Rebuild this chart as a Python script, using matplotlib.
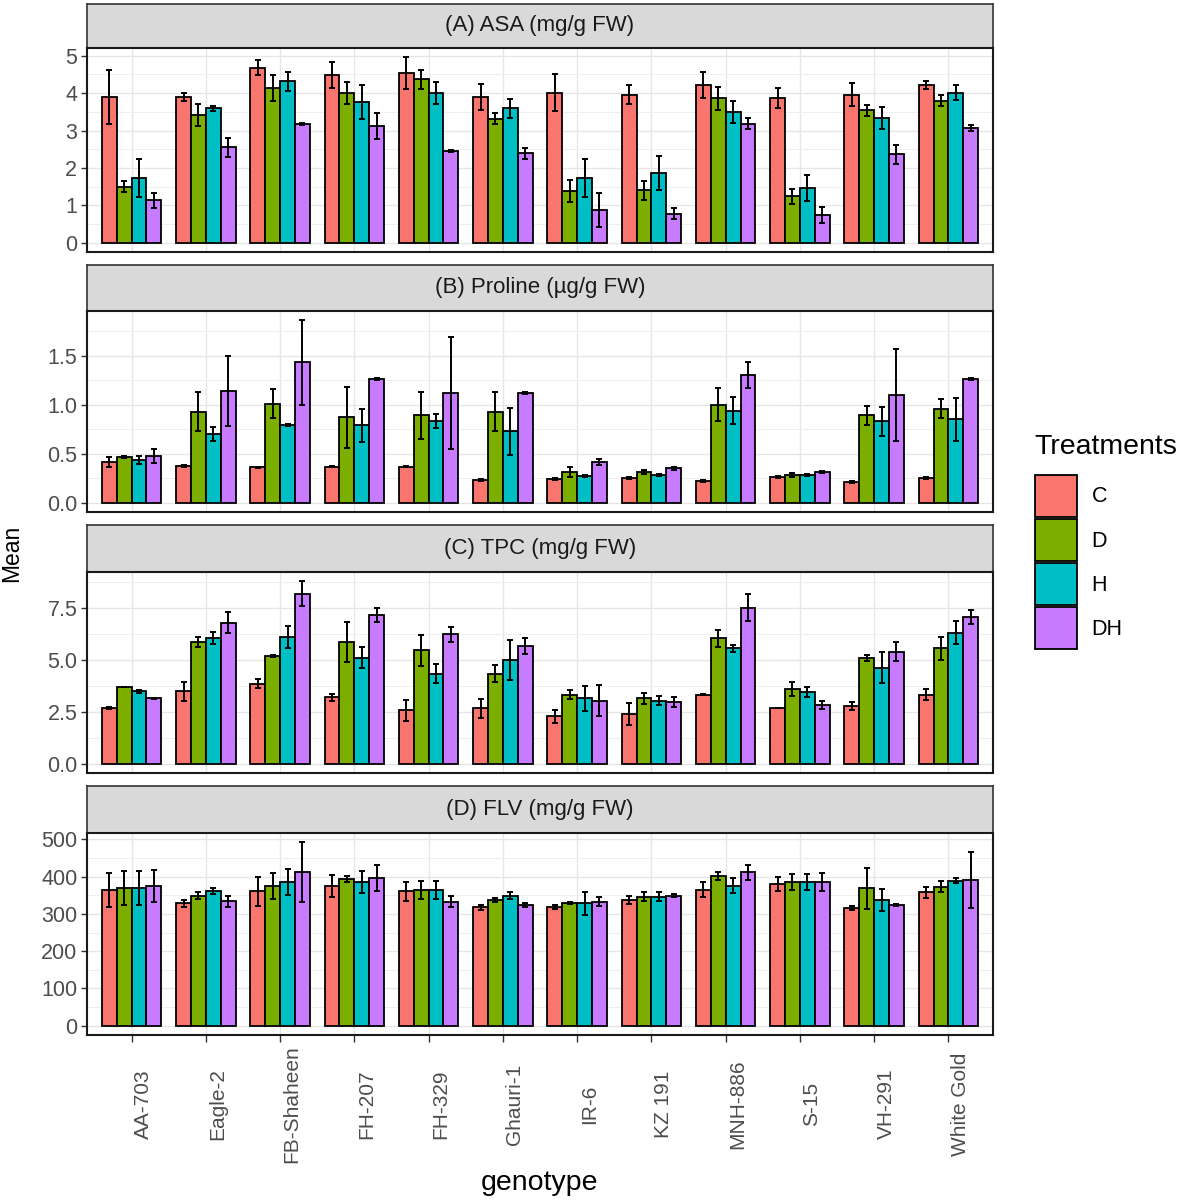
import numpy as np
import matplotlib.pyplot as plt
from matplotlib.patches import Patch
from matplotlib.ticker import MultipleLocator, FormatStrFormatter
from matplotlib.transforms import ScaledTranslation

plt.rcParams['font.family'] = ['Liberation Sans', 'DejaVu Sans']

genotypes = ['AA-703', 'Eagle-2', 'FB-Shaheen', 'FH-207', 'FH-329', 'Ghauri-1',
             'IR-6', 'KZ 191', 'MNH-886', 'S-15', 'VH-291', 'White Gold']
treatments = ['C', 'D', 'H', 'DH']
colors = ['#F8766D', '#7CAE00', '#00BFC4', '#C77CFF']

# rows = genotypes, columns = treatments (C, D, H, DH)
asa_mean = [[3.90, 1.50, 1.73, 1.14], [3.90, 3.42, 3.59, 2.55], [4.68, 4.14, 4.32, 3.18],
            [4.49, 4.01, 3.76, 3.13], [4.53, 4.37, 4.01, 2.45], [3.90, 3.32, 3.59, 2.39],
            [4.01, 1.38, 1.73, 0.88], [3.96, 1.40, 1.87, 0.78], [4.22, 3.86, 3.49, 3.18],
            [3.86, 1.24, 1.46, 0.74], [3.96, 3.54, 3.33, 2.36], [4.22, 3.80, 4.01, 3.06]]
asa_err = [[0.72, 0.15, 0.52, 0.20], [0.10, 0.30, 0.07, 0.25], [0.20, 0.35, 0.25, 0.03],
           [0.35, 0.30, 0.45, 0.35], [0.43, 0.25, 0.30, 0.03], [0.35, 0.15, 0.25, 0.15],
           [0.50, 0.30, 0.50, 0.45], [0.25, 0.25, 0.45, 0.15], [0.35, 0.30, 0.30, 0.15],
           [0.27, 0.20, 0.35, 0.22], [0.30, 0.15, 0.30, 0.25], [0.10, 0.15, 0.20, 0.08]]

proline_mean = [[0.42, 0.47, 0.44, 0.48], [0.38, 0.93, 0.70, 1.14], [0.36, 1.01, 0.79, 1.43],
                [0.37, 0.87, 0.79, 1.26], [0.37, 0.89, 0.83, 1.12], [0.23, 0.93, 0.73, 1.12],
                [0.24, 0.31, 0.27, 0.42], [0.25, 0.31, 0.28, 0.35], [0.22, 1.00, 0.94, 1.30],
                [0.26, 0.28, 0.28, 0.31], [0.21, 0.89, 0.83, 1.10], [0.25, 0.96, 0.85, 1.26]]
proline_err = [[0.05, 0.01, 0.04, 0.07], [0.01, 0.20, 0.07, 0.36], [0.01, 0.15, 0.01, 0.43],
               [0.01, 0.31, 0.17, 0.01], [0.01, 0.24, 0.07, 0.57], [0.01, 0.20, 0.24, 0.01],
               [0.01, 0.05, 0.01, 0.03], [0.01, 0.02, 0.01, 0.02], [0.01, 0.17, 0.14, 0.13],
               [0.01, 0.02, 0.01, 0.01], [0.01, 0.10, 0.15, 0.47], [0.01, 0.10, 0.22, 0.01]]

tpc_mean = [[2.68, 3.69, 3.50, 3.15], [3.50, 5.87, 6.05, 6.80], [3.87, 5.19, 6.11, 8.20],
            [3.20, 5.87, 5.11, 7.18], [2.58, 5.48, 4.35, 6.24], [2.68, 4.35, 5.00, 5.68],
            [2.29, 3.34, 3.15, 3.05], [2.40, 3.15, 3.05, 2.97], [3.34, 6.05, 5.56, 7.53],
            [2.68, 3.61, 3.45, 2.85], [2.77, 5.11, 4.63, 5.40], [3.34, 5.56, 6.32, 7.08]]
tpc_err = [[0.05, 0.01, 0.08, 0.01], [0.45, 0.25, 0.30, 0.50], [0.20, 0.05, 0.55, 0.60],
           [0.15, 0.95, 0.50, 0.35], [0.50, 0.75, 0.45, 0.35], [0.45, 0.40, 0.95, 0.40],
           [0.30, 0.20, 0.60, 0.75], [0.55, 0.25, 0.20, 0.25], [0.03, 0.40, 0.15, 0.65],
           [0.01, 0.35, 0.25, 0.20], [0.20, 0.15, 0.75, 0.45], [0.25, 0.55, 0.55, 0.35]]

flv_mean = [[364, 369, 369, 375], [328, 349, 360, 334], [360, 375, 385, 412],
            [375, 394, 385, 396], [360, 364, 364, 332], [317, 337, 349, 323],
            [319, 330, 328, 332], [337, 346, 346, 349], [364, 402, 375, 412],
            [380, 385, 385, 385], [316, 369, 337, 323], [358, 373, 389, 391]]
flv_err = [[45, 45, 45, 42], [10, 10, 8, 15], [40, 35, 35, 80],
           [30, 8, 30, 35], [25, 25, 25, 15], [8, 5, 10, 5],
           [5, 3, 30, 12], [10, 12, 12, 5], [20, 10, 20, 20],
           [20, 22, 22, 25], [5, 55, 30, 3], [15, 15, 7, 75]]

panel_titles = ['(A) ASA (mg/g FW)', '(B) Proline (\u00b5g/g FW)',
                '(C) TPC (mg/g FW)', '(D) FLV (mg/g FW)']
panel_data = [(asa_mean, asa_err), (proline_mean, proline_err),
              (tpc_mean, tpc_err), (flv_mean, flv_err)]
major_steps = [1, 0.5, 2.5, 100]
tick_formats = ['%d', '%.1f', '%.1f', '%d']

W, H = 1181, 1202
fig = plt.figure(figsize=(W / 100, H / 100), dpi=100)

# pixel layout (top, bottom) of strips and panels
strips = [(4, 48), (265, 311), (525, 572), (786, 833)]
panels = [(48, 252), (311, 512), (572, 773), (833, 1035)]
left, right = 87, 993

x = np.arange(len(genotypes))
bar_w = 0.2
offsets = (np.arange(len(treatments)) - 1.5) * bar_w

tick_color = '#4D4D4D'
axes = []
for i in range(4):
    st, sb = strips[i]
    pt, pb = panels[i]
    sax = fig.add_axes([left / W, 1 - sb / H, (right - left) / W, (sb - st) / H])
    sax.set_facecolor('#D9D9D9')
    sax.set_xticks([])
    sax.set_yticks([])
    for sp in sax.spines.values():
        sp.set_color('#333333')
        sp.set_linewidth(1.2)
    sax.text(0.5, 0.5, panel_titles[i], ha='center', va='center',
             fontsize=16, color='#1A1A1A', transform=sax.transAxes)

    ax = fig.add_axes([left / W, 1 - pb / H, (right - left) / W, (pb - pt) / H])
    axes.append(ax)
    mean = np.array(panel_data[i][0], dtype=float)
    err = np.array(panel_data[i][1], dtype=float)
    for j, tr in enumerate(treatments):
        ax.bar(x + offsets[j], mean[:, j], width=bar_w, color=colors[j],
               edgecolor='black', linewidth=1.3, zorder=3)
        ax.errorbar(x + offsets[j], mean[:, j], yerr=err[:, j], fmt='none',
                    ecolor='black', elinewidth=1.4, capsize=2.0, capthick=1.4,
                    zorder=4)
    ymax = (mean + err).max()
    ax.set_ylim(-0.05 * ymax, 1.05 * ymax)
    ax.set_xlim(-0.6, len(genotypes) - 0.4)
    ax.yaxis.set_major_locator(MultipleLocator(major_steps[i]))
    ax.yaxis.set_minor_locator(MultipleLocator(major_steps[i] / 2))
    ax.yaxis.set_major_formatter(FormatStrFormatter(tick_formats[i]))
    ax.set_xticks(x)
    ax.grid(True, which='major', color='#E6E6E6', linewidth=1.0, zorder=0)
    ax.grid(True, which='minor', axis='y', color='#EFEFEF', linewidth=0.7, zorder=0)
    ax.set_axisbelow(True)
    ax.tick_params(axis='y', which='major', length=4, width=1, color='#333333',
                   labelsize=15.5, labelcolor=tick_color, pad=3)
    ax.tick_params(axis='y', which='minor', length=0)
    for sp in ax.spines.values():
        sp.set_color('#1A1A1A')
        sp.set_linewidth(1.5)
    if i < 3:
        ax.tick_params(axis='x', length=0, labelbottom=False)
    else:
        ax.tick_params(axis='x', length=5, width=1, color='#333333',
                       labelbottom=False)

# x tick labels of the bottom panel, rotated and centred
bax = axes[-1]
for xi, g in zip(x, genotypes):
    bax.text(xi, 0, g, rotation=90, ha='center', va='center', fontsize=15,
             color=tick_color,
             transform=bax.get_xaxis_transform() +
             ScaledTranslation(0.12, -0.69, fig.dpi_scale_trans))

fig.text(540 / W, 1 - 1183 / H, 'genotype', ha='center', va='center', fontsize=20.5)
fig.text(12 / W, 1 - 553 / H, 'Mean', ha='center', va='center', fontsize=16.5,
         rotation=90)

# legend
fig.text(1034 / W, 1 - 447 / H, 'Treatments', ha='left', va='center', fontsize=20.5)
handles = [Patch(facecolor=c, edgecolor='black', linewidth=1.3) for c in colors]
fig.legend(handles, treatments, loc='upper left',
           bbox_to_anchor=(1035 / W, 1 - 475 / H), frameon=False, fontsize=15.5,
           handlelength=1.95, handleheight=2.62, labelspacing=0.1,
           handletextpad=0.68, borderpad=0, borderaxespad=0)

fig.savefig('out.png', dpi=100)
